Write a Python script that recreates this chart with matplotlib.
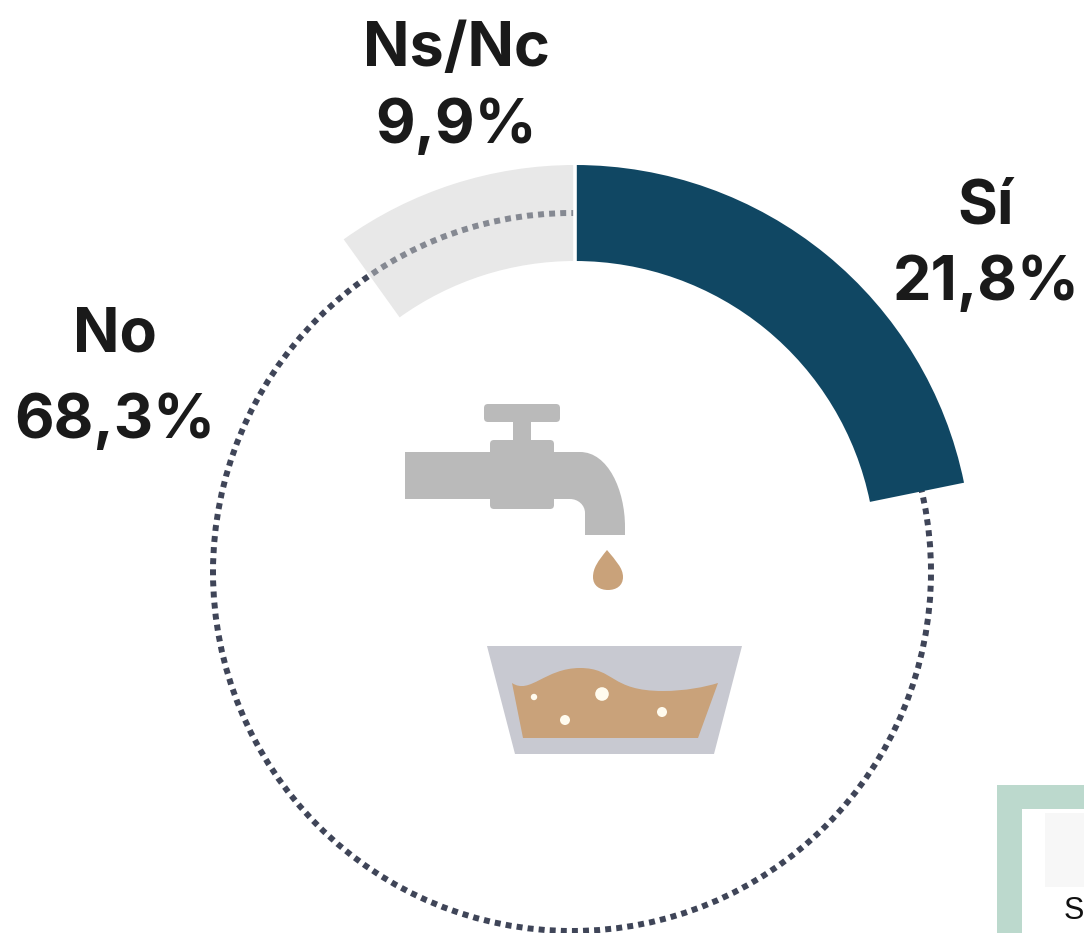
import matplotlib
matplotlib.use("Agg")
import matplotlib.pyplot as plt
from matplotlib.patches import Circle, FancyBboxPatch, PathPatch, Polygon, Rectangle
from matplotlib.path import Path

categories = ["Sí", "No", "Ns/Nc"]
shares = [21.8, 68.3, 9.9]
share_labels = ["21,8%", "68,3%", "9,9%"]
slice_colors = [(0.063, 0.278, 0.388, 1.0), (1, 1, 1, 0.0), (0.816, 0.816, 0.816, 0.49)]

plt.rcParams["font.family"] = ["Inter", "Open Sans", "DejaVu Sans"]

fig = plt.figure(figsize=(10.84, 9.33), dpi=100)
ax = fig.add_axes([0, 0, 1, 1])

# Dotted guide ring, seen through the translucent Ns/Nc slice
ax.add_patch(Circle((572, 572), 359, fill=False, edgecolor="#3f4558", linewidth=4.3,
                    linestyle=(0, (1.0, 0.86)), zorder=1))

# Ring chart: the y axis points down, so increasing angles run clockwise on screen
wedges, _ = ax.pie(shares, colors=slice_colors, startangle=-90, counterclock=True,
                   center=(575, 562), radius=397,
                   wedgeprops=dict(width=96, edgecolor="none"))
for w in wedges:
    w.set_zorder(2)
wedges[1].set_visible(False)
ax.plot([575, 575], [160, 265], color="white", lw=2.6, zorder=3)

ax.set_xlim(0, 1084)
ax.set_ylim(933, 0)
ax.set_aspect("equal")
ax.axis("off")

label_style = dict(ha="center", va="center", fontsize=44, fontweight="bold",
                   color="#1a1a1a", zorder=6)
label_pos = {"Sí": (986, 208, 284), "No": (115, 335, 422), "Ns/Nc": (456, 50, 127)}
for name, pct in zip(categories, share_labels):
    x, y1, y2 = label_pos[name]
    ax.text(x, y1, name, **label_style)
    ax.text(x, y2, pct, **label_style)

# Tap
tap_grey = "#bababa"
ax.add_patch(FancyBboxPatch((487, 407), 70, 12, boxstyle="round,pad=3,rounding_size=4",
                            fc=tap_grey, ec="none", zorder=4))
ax.add_patch(Rectangle((513, 420), 18, 22, fc=tap_grey, ec="none", zorder=4))
ax.add_patch(FancyBboxPatch((493, 443), 58, 63, boxstyle="round,pad=3,rounding_size=4",
                            fc=tap_grey, ec="none", zorder=4))
spout = Path(
    [(405, 452), (580, 452), (608, 452), (625, 490), (625, 527), (625, 535), (585, 535),
     (585, 513), (585, 505), (578, 499), (570, 499), (405, 499), (405, 452)],
    [Path.MOVETO, Path.LINETO, Path.CURVE4, Path.CURVE4, Path.CURVE4, Path.LINETO, Path.LINETO,
     Path.LINETO, Path.CURVE4, Path.CURVE4, Path.CURVE4, Path.LINETO, Path.CLOSEPOLY])
ax.add_patch(PathPatch(spout, fc=tap_grey, ec="none", zorder=4))

# Falling drop
water = "#c9a27a"
drop = Path(
    [(607, 550), (598, 561), (593, 568), (593, 577), (593, 586), (600, 590), (608, 590),
     (616, 590), (623, 586), (623, 577), (623, 568), (616, 561), (607, 550)],
    [Path.MOVETO] + [Path.CURVE4] * 12)
ax.add_patch(PathPatch(drop, fc=water, ec="none", zorder=4))

# Basin with dirty water and bubbles
ax.add_patch(Polygon([(487, 646), (742, 646), (714, 754), (515, 754)],
                     closed=True, fc="#c8c9d1", ec="none", zorder=4))
surface = Path(
    [(512, 683), (530, 695), (545, 668), (580, 668), (615, 668), (610, 691), (663, 691),
     (685, 691), (705, 687), (718, 683), (698, 738), (523, 738), (512, 683)],
    [Path.MOVETO, Path.CURVE4, Path.CURVE4, Path.CURVE4, Path.CURVE4, Path.CURVE4, Path.CURVE4,
     Path.CURVE4, Path.CURVE4, Path.CURVE4, Path.LINETO, Path.LINETO, Path.CLOSEPOLY])
ax.add_patch(PathPatch(surface, fc=water, ec="none", zorder=5))
for bx, by, br in [(534, 697, 3.2), (602, 694, 6.8), (565, 720, 5), (662, 712, 5)]:
    ax.add_patch(Circle((bx, by), br, fc="#fffbee", ec="none", zorder=6))

# Corner of the neighbouring framed panel
ax.add_patch(Rectangle((997, 785), 100, 160, fc="#bcd9cd", ec="none", zorder=4))
ax.add_patch(Rectangle((1022, 809), 70, 130, fc="white", ec="none", zorder=5))
ax.add_patch(Rectangle((1045, 813), 50, 74, fc="#f7f7f7", ec="none", zorder=5))
ax.text(1074, 911, "S", fontsize=22, ha="center", va="center", color="#111111", zorder=6,
        family=["Liberation Sans", "DejaVu Sans"])

fig.savefig("out.png", dpi=100, facecolor="white")
